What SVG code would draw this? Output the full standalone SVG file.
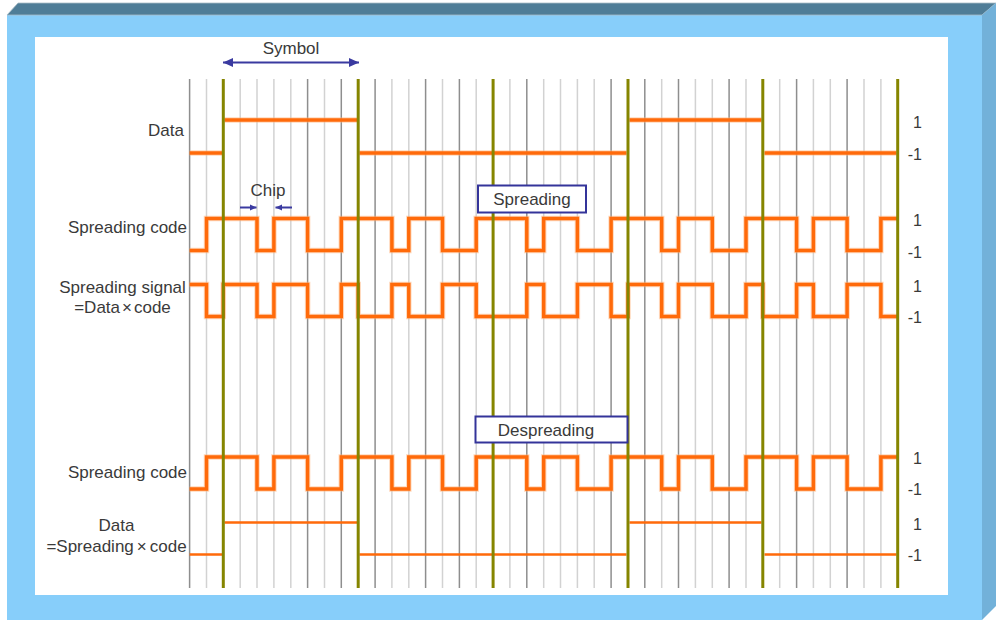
<svg xmlns="http://www.w3.org/2000/svg" width="997" height="624" viewBox="0 0 997 624">
<defs>
<style>
.t{font-family:"Liberation Sans",Arial,sans-serif;fill:#3a3a3a;font-size:17px}
.n{font-family:"Liberation Sans",Arial,sans-serif;fill:#3a3a3a;font-size:16px;text-anchor:end}
.gd{stroke:#8e8e8e;stroke-width:1.5}
.gl{stroke:#d2d2d2;stroke-width:1.5}
.go{stroke:#858500;stroke-width:3}
.w{fill:none;stroke:#ff6a0a;stroke-width:3.5;stroke-linejoin:miter}
.wg{fill:none;stroke:#ffb37a;stroke-width:5.5;stroke-opacity:0.5}
.wt{fill:none;stroke:#ff6a0a;stroke-width:2.5}
.box{fill:#fff;stroke:#34349a;stroke-width:2}
.arr{stroke:#3a3aa0;stroke-width:2;fill:none}
</style>
<marker id="ah" markerUnits="userSpaceOnUse" markerWidth="11" markerHeight="9" refX="10" refY="4.5" orient="auto-start-reverse"><path d="M0,0 L10,4.5 L0,9 Z" fill="#3a3aa0"/></marker>
<marker id="as" markerUnits="userSpaceOnUse" markerWidth="7" markerHeight="7" refX="6.5" refY="3.5" orient="auto"><path d="M0,0.5 L6.5,3.5 L0,6.5 Z" fill="#3a3aa0"/></marker>
</defs>
<g id="frame">
<rect x="7" y="15" width="975" height="605" fill="#87cefa"/>
<polygon points="7,15 18,3 996,3 982,15" fill="#4f7d97" stroke="#a9bcc6" stroke-width="0.8"/>
<polygon points="982,15 996,3 996,606 982,620" fill="#72b1d9"/>
<rect x="35" y="37" width="913" height="558" fill="#ffffff"/>
</g>
<g id="grid">
<line class="gd" x1="189.6" y1="79" x2="189.6" y2="588"/>
<line class="gl" x1="206.5" y1="79" x2="206.5" y2="588"/>
<line class="gl" x1="240.2" y1="79" x2="240.2" y2="588"/>
<line class="gl" x1="257" y1="79" x2="257" y2="588"/>
<line class="gl" x1="273.9" y1="79" x2="273.9" y2="588"/>
<line class="gl" x1="290.8" y1="79" x2="290.8" y2="588"/>
<line class="gd" x1="307.6" y1="79" x2="307.6" y2="588"/>
<line class="gl" x1="324.5" y1="79" x2="324.5" y2="588"/>
<line class="gd" x1="341.3" y1="79" x2="341.3" y2="588"/>
<line class="gd" x1="375.1" y1="79" x2="375.1" y2="588"/>
<line class="gl" x1="391.9" y1="79" x2="391.9" y2="588"/>
<line class="gl" x1="408.8" y1="79" x2="408.8" y2="588"/>
<line class="gd" x1="425.6" y1="79" x2="425.6" y2="588"/>
<line class="gl" x1="442.5" y1="79" x2="442.5" y2="588"/>
<line class="gd" x1="459.4" y1="79" x2="459.4" y2="588"/>
<line class="gl" x1="476.2" y1="79" x2="476.2" y2="588"/>
<line class="gl" x1="509.9" y1="79" x2="509.9" y2="588"/>
<line class="gd" x1="526.8" y1="79" x2="526.8" y2="588"/>
<line class="gl" x1="543.7" y1="79" x2="543.7" y2="588"/>
<line class="gl" x1="560.5" y1="79" x2="560.5" y2="588"/>
<line class="gl" x1="577.4" y1="79" x2="577.4" y2="588"/>
<line class="gl" x1="594.2" y1="79" x2="594.2" y2="588"/>
<line class="gd" x1="611.1" y1="79" x2="611.1" y2="588"/>
<line class="gd" x1="644.8" y1="79" x2="644.8" y2="588"/>
<line class="gl" x1="661.7" y1="79" x2="661.7" y2="588"/>
<line class="gd" x1="678.5" y1="79" x2="678.5" y2="588"/>
<line class="gl" x1="695.4" y1="79" x2="695.4" y2="588"/>
<line class="gl" x1="712.3" y1="79" x2="712.3" y2="588"/>
<line class="gd" x1="729.1" y1="79" x2="729.1" y2="588"/>
<line class="gl" x1="746" y1="79" x2="746" y2="588"/>
<line class="gl" x1="779.7" y1="79" x2="779.7" y2="588"/>
<line class="gd" x1="796.6" y1="79" x2="796.6" y2="588"/>
<line class="gl" x1="813.4" y1="79" x2="813.4" y2="588"/>
<line class="gl" x1="830.3" y1="79" x2="830.3" y2="588"/>
<line class="gd" x1="847.1" y1="79" x2="847.1" y2="588"/>
<line class="gl" x1="864" y1="79" x2="864" y2="588"/>
<line class="gl" x1="880.9" y1="79" x2="880.9" y2="588"/>
</g>
<g id="waveforms">
<g id="data-top">
<path class="wg" d="M189.6,153 H222 M224.5,120 H357 M359.5,153 H626.5 M629.5,120 H761.5 M764.5,153 H896.5"/>
<path class="w" d="M189.6,153 H222 M224.5,120 H357 M359.5,153 H626.5 M629.5,120 H761.5 M764.5,153 H896.5"/>
</g>
<g id="code-top">
<path class="wg" d="M189.6,250.5 H206.5 V218.5 H257 V250.5 H273.9 V218.5 H307.6 V250.5 H341.3 V218.5 H391.9 V250.5 H408.8 V218.5 H442.5 V250.5 H476.2 V218.5 H526.8 V250.5 H543.7 V218.5 H577.4 V250.5 H611.1 V218.5 H661.7 V250.5 H678.5 V218.5 H712.3 V250.5 H746 V218.5 H796.6 V250.5 H813.4 V218.5 H847.1 V250.5 H880.9 V218.5 H897.7"/>
<path class="w" d="M189.6,250.5 H206.5 V218.5 H257 V250.5 H273.9 V218.5 H307.6 V250.5 H341.3 V218.5 H391.9 V250.5 H408.8 V218.5 H442.5 V250.5 H476.2 V218.5 H526.8 V250.5 H543.7 V218.5 H577.4 V250.5 H611.1 V218.5 H661.7 V250.5 H678.5 V218.5 H712.3 V250.5 H746 V218.5 H796.6 V250.5 H813.4 V218.5 H847.1 V250.5 H880.9 V218.5 H897.7"/>
</g>
<g id="signal">
<path class="wg" d="M189.6,284.5 H206.5 V316.5 H223.3 V284.5 H257 V316.5 H273.9 V284.5 H307.6 V316.5 H341.3 V284.5 H358.2 V316.5 H391.9 V284.5 H408.8 V316.5 H442.5 V284.5 H476.2 V316.5 H526.8 V284.5 H543.7 V316.5 H577.4 V284.5 H611.1 V316.5 H628 V284.5 H661.7 V316.5 H678.5 V284.5 H712.3 V316.5 H746 V284.5 H762.8 V316.5 H796.6 V284.5 H813.4 V316.5 H847.1 V284.5 H880.9 V316.5 H897.7"/>
<path class="w" d="M189.6,284.5 H206.5 V316.5 H223.3 V284.5 H257 V316.5 H273.9 V284.5 H307.6 V316.5 H341.3 V284.5 H358.2 V316.5 H391.9 V284.5 H408.8 V316.5 H442.5 V284.5 H476.2 V316.5 H526.8 V284.5 H543.7 V316.5 H577.4 V284.5 H611.1 V316.5 H628 V284.5 H661.7 V316.5 H678.5 V284.5 H712.3 V316.5 H746 V284.5 H762.8 V316.5 H796.6 V284.5 H813.4 V316.5 H847.1 V284.5 H880.9 V316.5 H897.7"/>
</g>
<g id="code-bottom">
<path class="wg" d="M189.6,489 H206.5 V457 H257 V489 H273.9 V457 H307.6 V489 H341.3 V457 H391.9 V489 H408.8 V457 H442.5 V489 H476.2 V457 H526.8 V489 H543.7 V457 H577.4 V489 H611.1 V457 H661.7 V489 H678.5 V457 H712.3 V489 H746 V457 H796.6 V489 H813.4 V457 H847.1 V489 H880.9 V457 H897.7"/>
<path class="w" d="M189.6,489 H206.5 V457 H257 V489 H273.9 V457 H307.6 V489 H341.3 V457 H391.9 V489 H408.8 V457 H442.5 V489 H476.2 V457 H526.8 V489 H543.7 V457 H577.4 V489 H611.1 V457 H661.7 V489 H678.5 V457 H712.3 V489 H746 V457 H796.6 V489 H813.4 V457 H847.1 V489 H880.9 V457 H897.7"/>
</g>
<g id="data-bottom">
<path class="wt" d="M189.6,554.5 H222 M224.5,522.5 H357 M359.5,554.5 H626.5 M629.5,522.5 H761.5 M764.5,554.5 H896.5"/>
</g>
</g>
<g id="symbol-lines">
<line class="go" x1="223.3" y1="79" x2="223.3" y2="588"/>
<line class="go" x1="358.2" y1="79" x2="358.2" y2="588"/>
<line class="go" x1="493.1" y1="79" x2="493.1" y2="588"/>
<line class="go" x1="628" y1="79" x2="628" y2="588"/>
<line class="go" x1="762.8" y1="79" x2="762.8" y2="588"/>
<line class="go" x1="897.7" y1="79" x2="897.7" y2="588"/>
</g>
<g id="connectors">
<line class="arr" x1="223" y1="62.5" x2="359" y2="62.5" marker-start="url(#ah)" marker-end="url(#ah)"/>
<line class="arr" stroke-width="1.5" x1="240" y1="207.5" x2="256.5" y2="207.5" marker-end="url(#as)"/>
<line class="arr" stroke-width="1.5" x1="292" y1="207.5" x2="275.5" y2="207.5" marker-end="url(#as)"/>
</g>
<g id="spreading-box">
<rect class="box" x="478" y="185.5" width="108" height="27"/>
<text class="t" x="532" y="205" text-anchor="middle">Spreading</text>
</g>
<g id="despreading-box">
<rect class="box" x="475.5" y="416.5" width="152" height="26"/>
<text class="t" x="546" y="436" font-size="18" text-anchor="middle">Despreading</text>
</g>
<g id="labels">
<text class="t" x="291" y="54" font-size="16" text-anchor="middle">Symbol</text>
<text class="t" x="268" y="196" text-anchor="middle">Chip</text>
<text class="t" x="184" y="136" text-anchor="end">Data</text>
<text class="t" x="187" y="232.5" text-anchor="end">Spreading code</text>
<text class="t" x="122.5" y="293" text-anchor="middle">Spreading signal</text>
<text class="t" x="122.5" y="313" text-anchor="middle">=Data<tspan dx="2">×</tspan><tspan dx="2">code</tspan></text>
<text class="t" x="187" y="478" text-anchor="end">Spreading code</text>
<text class="t" x="116.5" y="531" text-anchor="middle">Data</text>
<text class="t" x="116.5" y="552" text-anchor="middle">=Spreading<tspan dx="3">×</tspan><tspan dx="3">code</tspan></text>
</g>
<g id="levels">
<text class="n" x="922" y="128">1</text>
<text class="n" x="922" y="159.5">-1</text>
<text class="n" x="922" y="226">1</text>
<text class="n" x="922" y="257.5">-1</text>
<text class="n" x="922" y="292">1</text>
<text class="n" x="922" y="322.5">-1</text>
<text class="n" x="922" y="464">1</text>
<text class="n" x="922" y="494.5">-1</text>
<text class="n" x="922" y="529.5">1</text>
<text class="n" x="922" y="560.5">-1</text>
</g>
</svg>
